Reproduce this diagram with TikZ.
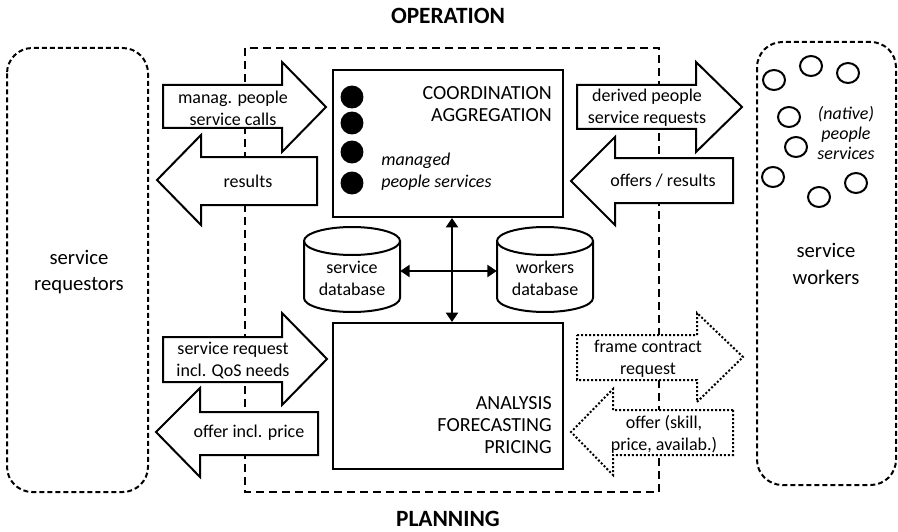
\documentclass[tikz,border=0pt]{standalone}
\usepackage{fontspec}
\setmainfont{Carlito}
\usetikzlibrary{arrows.meta}

\begin{document}
\begin{tikzpicture}[x=0.75pt,y=-0.75pt,
  every node/.style={inner sep=0pt, align=center, font=\fontsize{13.5}{16.5}\selectfont},
  bigtxt/.style={font=\fontsize{15.5}{20}\selectfont},
  unittxt/.style={anchor=east, align=right, font=\fontsize{15}{16.5}\selectfont},
  titletxt/.style={font=\fontsize{17.5}{20}\selectfont\bfseries},
  line/.style={line width=1.5pt},
  blockarrow/.style={line width=1.5pt, fill=white, line join=miter},
  dotarrow/.style={blockarrow, dash pattern=on 1.5pt off 1.5pt},
  zone/.style={line width=1.5pt, dash pattern=on 6pt off 3.75pt},
  party/.style={line width=1.5pt, dash pattern=on 3.75pt off 2.25pt, rounded corners=19pt},
  unitbox/.style={draw, line width=1.5pt, fill=white, minimum width=172.5pt},
  dbspot/.style={minimum width=72pt, minimum height=2pt},
  link/.style={line width=1.5pt, {Triangle[length=7pt,width=9pt]}-{Triangle[length=7pt,width=9pt]}},
  dot/.style={fill=black},
  ring/.style={line width=1.5pt, fill=white}
  ]
\useasboundingbox (0,0) rectangle (898,531);

% headings
\node[titletxt] (op) at (448,16) {OPERATION};
\node[titletxt] (pl) at (448,519) {PLANNING};

% actors and the operator's zone
\draw[party] (7,48) rectangle (148,492);
\draw[party] (757,42) rectangle (896,485);
\draw[zone] (245,48) rectangle (659,492);

\node[bigtxt] (req) at (79,272) {service\\requestors};
\node[bigtxt] (wrk) at (826,264) {service\\workers};

% block arrows, requestor side
\draw[blockarrow] (163,85) -- (282,85) -- (282,62) -- (326,107) -- (282,152) -- (282,128) -- (163,128) -- cycle;
\node (a1) at (233,108) {manag. people\\service calls};
\draw[blockarrow] (317,157) -- (201,157) -- (201,135) -- (157,180) -- (201,225) -- (201,205) -- (317,205) -- cycle;
\node (a2) at (248,181) {results};
\draw[blockarrow] (163,337) -- (282,337) -- (282,313) -- (327,359) -- (282,405) -- (282,382) -- (163,382) -- cycle;
\node (a5) at (233,360) {service request\\incl. QoS needs};
\draw[blockarrow] (318,412) -- (200,412) -- (200,388) -- (156,432) -- (200,477) -- (200,455) -- (318,455) -- cycle;
\node (a6) at (249,433) {offer incl. price};

% block arrows, worker side
\draw[blockarrow] (577,85) -- (696,85) -- (696,62) -- (742,107) -- (696,152) -- (696,129) -- (577,129) -- cycle;
\node (a3) at (647,108) {derived people\\service requests};
\draw[blockarrow] (733,158) -- (615,158) -- (615,137) -- (571,181) -- (615,225) -- (615,203) -- (733,203) -- cycle;
\node (a4) at (663,181) {offers / results};
\draw[dotarrow] (577,335) -- (697,335) -- (697,313) -- (743,357) -- (697,402) -- (697,380) -- (577,380) -- cycle;
\node (a7) at (648,359) {frame contract\\request};
\draw[dotarrow] (733,410) -- (613,410) -- (613,389) -- (571,432) -- (613,475) -- (613,455) -- (733,455) -- cycle;
\node (a8) at (664,434) {offer (skill,\\price, availab.)};

% operation and planning units
\node[unitbox, minimum height=110.25pt] (coord) at (448,143.5) {};
\node[unitbox, minimum height=109.5pt] (plan) at (448,396) {};
\node[unittxt] (coordtxt) at (552,104) {COORDINATION\\AGGREGATION};
\node[unittxt] (plantxt) at (552,425) {ANALYSIS\\FORECASTING\\PRICING};

% managed people services
\fill[dot] (352,97) circle[radius=8.6pt];
\fill[dot] (352,123) circle[radius=8.6pt];
\fill[dot] (352,152) circle[radius=8.6pt];
\fill[dot] (352,183) circle[radius=8.6pt];
\node[anchor=west, align=left, font=\fontsize{13.5}{16.5}\selectfont\itshape] (mps) at (381,172) {managed\\people services};

% databases
\draw[line, fill=white] (304,241) -- (304,298) arc[start angle=180, end angle=360, x radius=36pt, y radius=10.5pt] -- (400,241);
\draw[line] (352,241) ellipse[x radius=36pt, y radius=10.5pt];
\node (sdbtxt) at (352,278) {service\\database};
\draw[line, fill=white] (497,241) -- (497,298) arc[start angle=180, end angle=360, x radius=36pt, y radius=10.5pt] -- (593,241);
\draw[line] (545,241) ellipse[x radius=36pt, y radius=10.5pt];
\node (wdbtxt) at (545,278) {workers\\database};
\node[dbspot] (sdb) at (352,271) {};
\node[dbspot] (wdb) at (545,271) {};

% links between units and databases
\coordinate (vx) at (452,0);
\draw[link] (coord.south -| vx) -- (plan.north -| vx);
\draw[link] (sdb.east) -- (wdb.west);

% native people services
\foreach \cx/\cy in {774/80, 811/66, 848/73, 789/117, 796/147, 773/177, 856/183, 819/197}
  \draw[ring] (\cx,\cy) ellipse[x radius=8.25pt, y radius=7.5pt];
\node[font=\fontsize{13.5}{15}\selectfont\itshape] (nps) at (846,133) {(native)\\people\\services};
\end{tikzpicture}
\end{document}
